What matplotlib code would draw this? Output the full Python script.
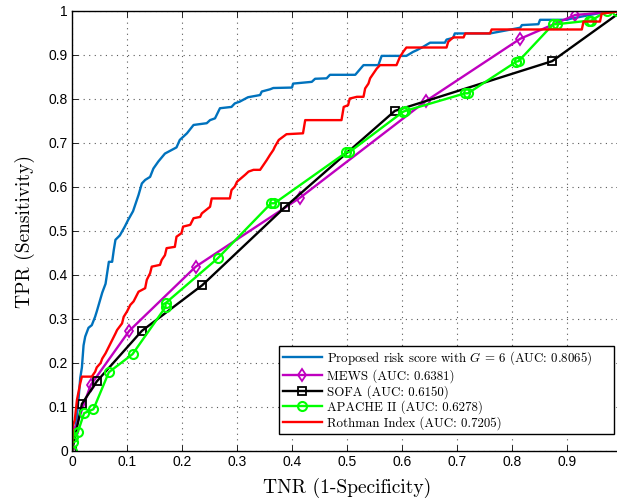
import matplotlib
matplotlib.use("Agg")
import matplotlib.pyplot as plt

plt.rcParams['mathtext.fontset'] = 'cm'
plt.rcParams['axes.unicode_minus'] = False

# ---- data ----
prop_fpr = [0, 0.005, 0.009, 0.012, 0.015, 0.018, 0.021, 0.024, 0.030, 0.036, 0.042, 0.045, 0.055, 0.061,
            0.067, 0.073, 0.076, 0.079, 0.087, 0.096, 0.102, 0.111, 0.121, 0.127, 0.133, 0.142, 0.148,
            0.157, 0.169, 0.181, 0.190, 0.196, 0.209, 0.221, 0.245, 0.251, 0.260, 0.269, 0.290, 0.296,
            0.305, 0.320, 0.342, 0.345, 0.360, 0.366, 0.400, 0.402, 0.436, 0.442, 0.463, 0.469, 0.515,
            0.530, 0.557, 0.563, 0.608, 0.620, 0.627, 0.639, 0.651, 0.660, 0.678, 0.681, 0.693, 0.696,
            0.760, 0.815, 0.818, 0.848, 0.851, 0.900, 0.905, 0.966, 1.0]
prop_tpr = [0, 0.04, 0.08, 0.12, 0.166, 0.19, 0.24, 0.26, 0.28, 0.286, 0.305, 0.317, 0.36, 0.38,
            0.43, 0.43, 0.457, 0.48, 0.49, 0.51, 0.525, 0.545, 0.582, 0.608, 0.616, 0.623, 0.642,
            0.658, 0.676, 0.684, 0.69, 0.707, 0.722, 0.741, 0.745, 0.752, 0.756, 0.779, 0.782, 0.79,
            0.794, 0.804, 0.809, 0.817, 0.822, 0.825, 0.826, 0.835, 0.839, 0.846, 0.847, 0.855, 0.855,
            0.877, 0.877, 0.898, 0.898, 0.907, 0.911, 0.919, 0.928, 0.928, 0.928, 0.935, 0.939, 0.949,
            0.949, 0.962, 0.968, 0.970, 0.98, 0.98, 0.982, 0.997, 1.0]

mews_fpr = [0, 0.003, 0.034, 0.104, 0.225, 0.415, 0.643, 0.815, 0.915, 1.0]
mews_tpr = [0, 0.04, 0.150, 0.273, 0.419, 0.576, 0.795, 0.937, 0.991, 1.0]

sofa_fpr = [0, 0.018, 0.045, 0.127, 0.237, 0.387, 0.587, 0.873, 1.0]
sofa_tpr = [0, 0.107, 0.158, 0.273, 0.377, 0.554, 0.773, 0.886, 1.0]

apache_fpr = [0, 0.001, 0.001, 0.011, 0.022, 0.039, 0.067, 0.110, 0.170, 0.170, 0.265, 0.362, 0.368,
              0.499, 0.504, 0.602, 0.606, 0.715, 0.720, 0.808, 0.812, 0.875, 0.881, 0.940, 0.944,
              0.972, 0.990]
apache_tpr = [0, 0.021, 0.032, 0.044, 0.086, 0.095, 0.179, 0.220, 0.327, 0.336, 0.438, 0.563, 0.563,
              0.679, 0.679, 0.771, 0.773, 0.813, 0.813, 0.885, 0.886, 0.970, 0.970, 0.978, 0.978,
              1.0, 1.0]

roth_fpr = [0, 0.001, 0.005, 0.009, 0.015, 0.018, 0.036, 0.042, 0.045, 0.052, 0.055, 0.061, 0.067,
            0.073, 0.079, 0.082, 0.091, 0.094, 0.100, 0.106, 0.112, 0.121, 0.127, 0.133, 0.136, 0.142,
            0.145, 0.160, 0.163, 0.169, 0.172, 0.187, 0.190, 0.199, 0.202, 0.215, 0.221, 0.233, 0.236,
            0.251, 0.254, 0.287, 0.290, 0.296, 0.300, 0.315, 0.321, 0.330, 0.342, 0.348, 0.354, 0.360,
            0.366, 0.369, 0.376, 0.390, 0.420, 0.424, 0.490, 0.494, 0.502, 0.505, 0.518, 0.530, 0.533,
            0.539, 0.542, 0.548, 0.554, 0.560, 0.590, 0.596, 0.602, 0.608, 0.633, 0.681, 0.684, 0.693,
            0.712, 0.715, 0.760, 0.763, 0.927, 0.930, 0.960, 0.963, 1.0]
roth_tpr = [0, 0.055, 0.07, 0.116, 0.154, 0.169, 0.169, 0.18, 0.19, 0.2, 0.21, 0.222, 0.237,
            0.252, 0.267, 0.275, 0.29, 0.305, 0.317, 0.332, 0.34, 0.362, 0.366, 0.37, 0.389, 0.404,
            0.419, 0.423, 0.434, 0.445, 0.461, 0.464, 0.487, 0.495, 0.51, 0.514, 0.529, 0.532, 0.54,
            0.555, 0.574, 0.574, 0.593, 0.601, 0.612, 0.628, 0.635, 0.639, 0.639, 0.65, 0.661, 0.673,
            0.684, 0.692, 0.707, 0.72, 0.722, 0.752, 0.752, 0.782, 0.786, 0.801, 0.805, 0.805, 0.824,
            0.835, 0.847, 0.858, 0.869, 0.877, 0.877, 0.895, 0.907, 0.917, 0.917, 0.917, 0.93, 0.94,
            0.94, 0.949, 0.949, 0.958, 0.958, 0.976, 0.976, 0.994, 1.0]

labels = ['Proposed risk score with $G$ = 6 (AUC: 0.8065)',
          'MEWS (AUC: 0.6381)',
          'SOFA (AUC: 0.6150)',
          'APACHE II (AUC: 0.6278)',
          'Rothman Index (AUC: 0.7205)']

xticks = [0, 0.1, 0.2, 0.3, 0.4, 0.5, 0.6, 0.7, 0.8, 0.9]
xticklabels = ['0', '0.1', '0.2', '0.3', '0.4', '0.5', '0.6', '0.7', '0.8', '0.9']
yticks = [0, 0.1, 0.2, 0.3, 0.4, 0.5, 0.6, 0.7, 0.8, 0.9, 1.0]
yticklabels = ['0', '0.1', '0.2', '0.3', '0.4', '0.5', '0.6', '0.7', '0.8', '0.9', '1']

# ---- figure ----
fig = plt.figure(figsize=(6.17, 4.99), dpi=100)
ax = fig.add_axes([72/617, 48/499, 550/617, 440/499])

lw = 1.7
ax.plot(prop_fpr, prop_tpr, color='#0072BD', lw=lw, label=labels[0])
ax.plot(mews_fpr, mews_tpr, color='#BF00BF', lw=lw, marker='d', ms=6, mfc='none', mew=1.3, label=labels[1])
ax.plot(sofa_fpr, sofa_tpr, color='black', lw=lw, marker='s', ms=5.5, mfc='none', mew=1.3, label=labels[2])
ax.plot(apache_fpr, apache_tpr, color='#00FF00', lw=lw, marker='o', ms=6.5, mfc='none', mew=1.5, label=labels[3])
ax.plot(roth_fpr, roth_tpr, color='#FF0000', lw=lw, label=labels[4])

ax.set_xlim(0, 1)
ax.set_ylim(0, 1)
ax.set_xticks(xticks)
ax.set_xticklabels(xticklabels, family='Liberation Sans', fontsize=10)
ax.set_yticks(yticks)
ax.set_yticklabels(yticklabels, family='Liberation Sans', fontsize=10)
ax.tick_params(direction='in', top=True, right=True, length=4, width=0.6, pad=3)
ax.grid(True, linestyle=(0, (1, 4)), color='0.35', lw=0.8)
for s in ax.spines.values():
    s.set_linewidth(1.0)

ax.set_xlabel('TNR (1-Specificity)', family='cmr10', fontsize=14, labelpad=6)
ax.set_ylabel('TPR (Sensitivity)', family='cmr10', fontsize=14, labelpad=10)

leg = ax.legend(loc='lower left', bbox_to_anchor=(279/617, 65/499, 335/617, 84/499),
                bbox_transform=fig.transFigure, borderaxespad=0, mode='expand',
                prop={'family': 'cmr10', 'size': 9.3}, handlelength=3.0,
                fancybox=False, framealpha=1, edgecolor='black',
                labelspacing=0.15, borderpad=0.3, handletextpad=0.4)
leg.get_frame().set_linewidth(1.0)

fig.savefig('out.png', dpi=100)
